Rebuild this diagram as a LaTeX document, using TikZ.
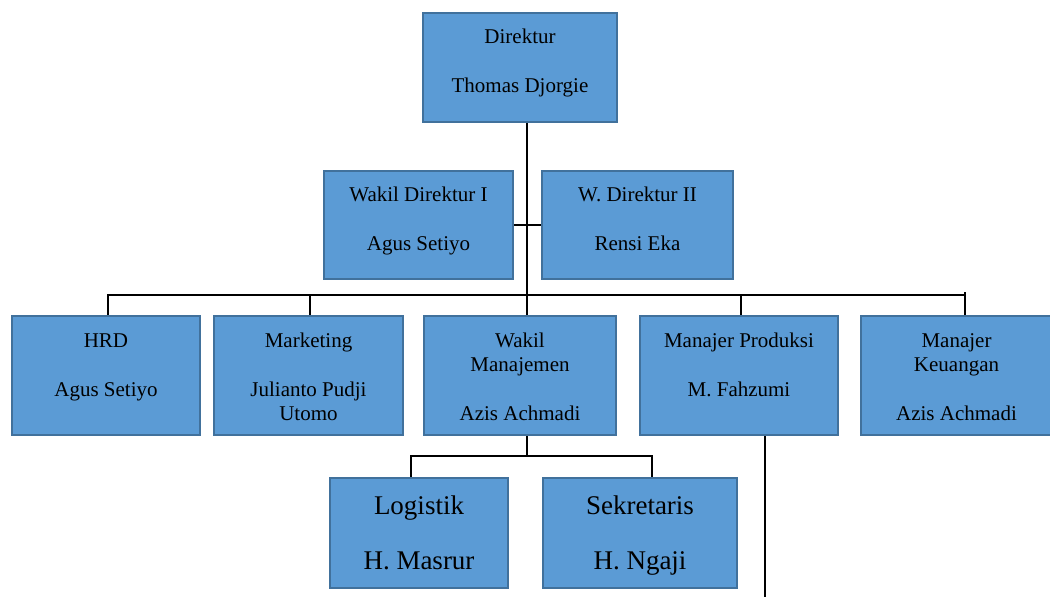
\documentclass[tikz,border=0pt]{standalone}
\usepackage{fontspec}
\setmainfont{Liberation Serif}
\definecolor{boxfill}{HTML}{5B9BD5}
\definecolor{boxline}{HTML}{41719C}
\pgfdeclarelayer{back}
\pgfdeclarelayer{lines}
\pgfsetlayers{back,lines,main}
\begin{document}
\begin{tikzpicture}[x=1pt,y=-1pt,
  orgbox/.style={draw=boxline, fill=boxfill, line width=2.5pt, rectangle, inner sep=0pt},
  orgtext/.style={anchor=north, align=center, inner sep=0pt, font=\fontsize{21}{24.5}\selectfont},
  bigtext/.style={anchor=north, align=center, inner sep=0pt, font=\fontsize{27}{27.5}\selectfont},
  conn/.style={draw=black, line width=1.3pt}]
\useasboundingbox (0,0) rectangle (1050,597);
\begin{pgfonlayer}{back}
  \fill[white] (0,0) rectangle (1050,597);
\end{pgfonlayer}

% boxes
\node[orgbox, minimum width=194pt, minimum height=109pt] (dir) at (520,67.5) {};
\node[orgbox, minimum width=189pt, minimum height=108pt] (wd1) at (418.5,225) {};
\node[orgbox, minimum width=191pt, minimum height=108pt] (wd2) at (637.5,225) {};
\node[orgbox, minimum width=188pt, minimum height=119pt] (hrd) at (106,375.5) {};
\node[orgbox, minimum width=189pt, minimum height=119pt] (mkt) at (308.5,375.5) {};
\node[orgbox, minimum width=192pt, minimum height=119pt] (wm) at (520,375.5) {};
\node[orgbox, minimum width=198pt, minimum height=119pt] (mp) at (739,375.5) {};
\node[orgbox, minimum width=191pt, minimum height=119pt] (mk) at (956.5,375.5) {};
\node[orgbox, minimum width=178pt, minimum height=110pt] (log) at (419,533) {};
\node[orgbox, minimum width=194pt, minimum height=110pt] (sek) at (640,533) {};

% texts
\node[orgtext] (dirT) at ([yshift=-13.9pt]dir.north) {\strut Direktur\\[24.5pt]Thomas Djorgie};
\node[orgtext] (wd1T) at ([yshift=-13.9pt]wd1.north) {\strut Wakil Direktur I\\[24.5pt]Agus Setiyo};
\node[orgtext] (wd2T) at ([yshift=-13.9pt]wd2.north) {\strut W. Direktur II\\[24.5pt]Rensi Eka};
\node[orgtext] (hrdT) at ([yshift=-14.9pt]hrd.north) {\strut HRD\\[24.5pt]Agus Setiyo};
\node[orgtext] (mktT) at ([yshift=-14.9pt]mkt.north) {\strut Marketing\\[24.5pt]Julianto Pudji\\Utomo};
\node[orgtext] (wmT) at ([yshift=-14.9pt]wm.north) {\strut Wakil\\Manajemen\\[24.5pt]Azis Achmadi};
\node[orgtext] (mpT) at ([yshift=-14.9pt]mp.north) {\strut Manajer Produksi\\[24.5pt]M. Fahzumi};
\node[orgtext] (mkT) at ([yshift=-14.9pt]mk.north) {\strut Manajer\\Keuangan\\[24.5pt]Azis Achmadi};
\node[bigtext] (logT) at ([yshift=-18pt]log.north) {\strut Logistik\\[27.5pt]H. Masrur};
\node[bigtext] (sekT) at ([yshift=-18pt]sek.north) {\strut Sekretaris\\[27.5pt]H. Ngaji};

% connectors
\coordinate (trunk) at (527,0);
\coordinate (busL) at (108,295);
\coordinate (busR) at (965,295);
\coordinate (busRtop) at (965,292);
\coordinate (mktDrop) at (310,295);
\coordinate (mpDrop) at (741,295);
\coordinate (subL) at (411,456);
\coordinate (subR) at (652,456);
\coordinate (mpEnd) at (765,597);
\begin{pgfonlayer}{lines}
  \draw[conn] (dir.south -| trunk) -- (wm.north -| trunk);
  \draw[conn] (wd1.east) -- (wd2.west);
  \draw[conn] (busL |- hrd.north) -- (busL) -- (busR);
  \draw[conn] (busRtop) -- (busR |- mk.north);
  \draw[conn] (mktDrop |- mkt.north) -- (mktDrop);
  \draw[conn] (mpDrop |- mp.north) -- (mpDrop);
  \draw[conn] (wm.south -| trunk) -- (trunk |- subL);
  \draw[conn] (subL |- log.north) -- (subL) -- (subR) -- (subR |- sek.north);
  \draw[conn] (mp.south -| mpEnd) -- (mpEnd);
\end{pgfonlayer}
\end{tikzpicture}
\end{document}
